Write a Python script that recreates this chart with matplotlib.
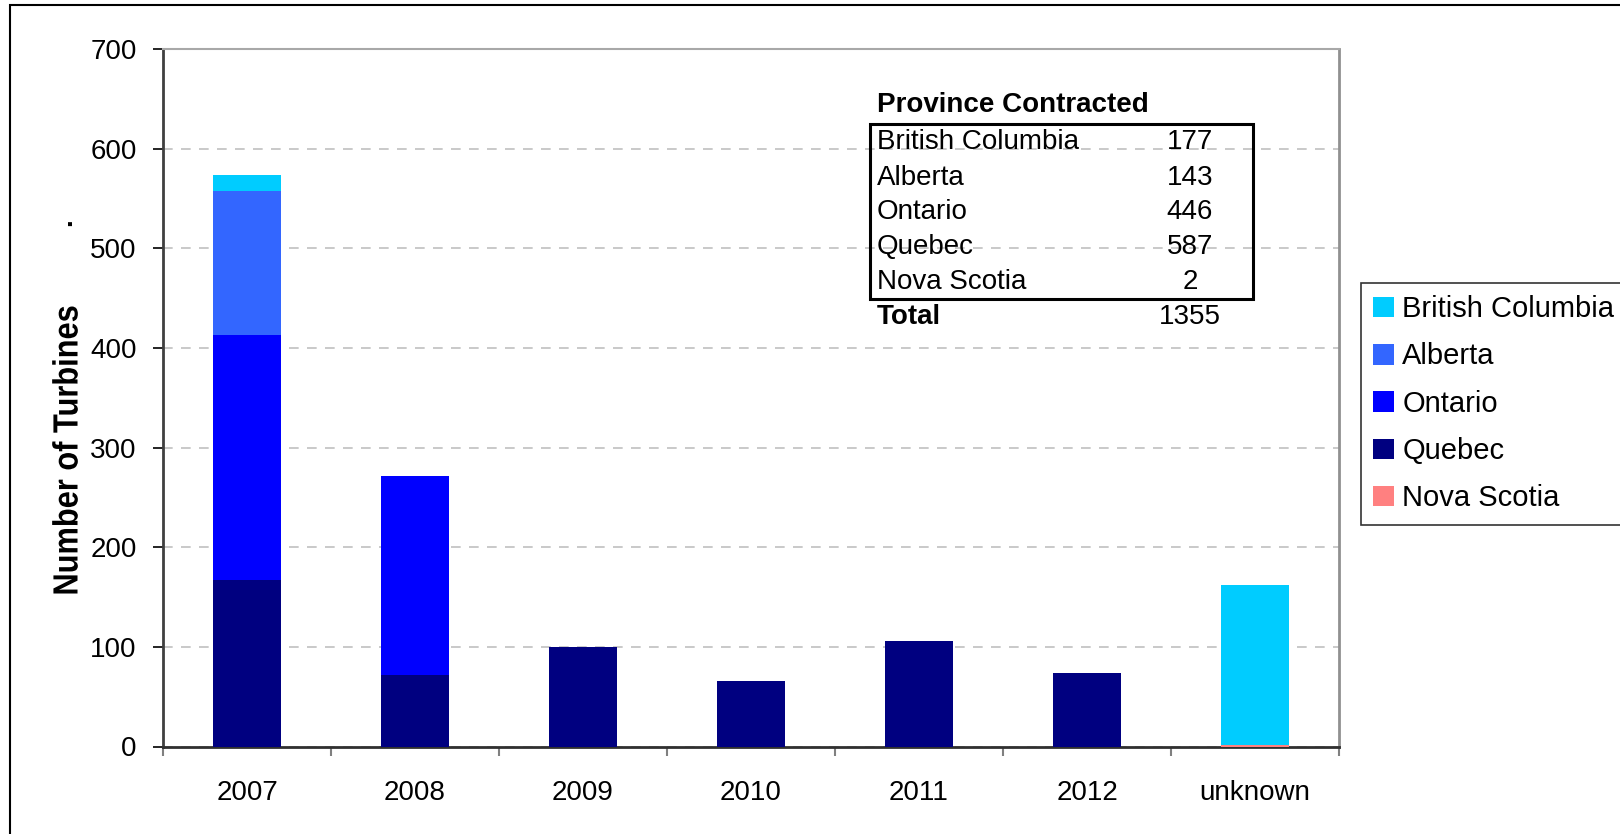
import numpy as np
import matplotlib
matplotlib.use("Agg")
import matplotlib.pyplot as plt
from matplotlib.patches import Rectangle, PathPatch
from matplotlib.textpath import TextPath
from matplotlib.font_manager import FontProperties
from matplotlib.transforms import Affine2D, IdentityTransform

plt.rcParams['font.family'] = ['Liberation Sans', 'DejaVu Sans']

# turbines per province by contract year
years = ['2007', '2008', '2009', '2010', '2011', '2012', 'unknown']
nova_scotia = [0, 0, 0, 0, 0, 0, 2]
quebec = [167, 72, 100, 66, 106, 74, 0]
ontario = [246, 200, 0, 0, 0, 0, 0]
alberta = [145, 0, 0, 0, 0, 0, 0]
british_columbia = [16, 0, 0, 0, 0, 0, 160]

# summary table (province contracted)
table_names = ['British Columbia', 'Alberta', 'Ontario', 'Quebec', 'Nova Scotia']
table_counts = [177, 143, 446, 587, 2]
table_total = 1355

W, H = 1620, 834
fig = plt.figure(figsize=(W / 100, H / 100), dpi=100)


def fx(x):
    return x / W


def fy(y):
    return 1 - y / H


ax = fig.add_axes([fx(163), fy(746.5), (1339 - 163) / W, (746.5 - 49.3) / H])

x = np.arange(len(years))
series = [
    ('Nova Scotia', nova_scotia, '#FF8080'),
    ('Quebec', quebec, '#000080'),
    ('Ontario', ontario, '#0000FF'),
    ('Alberta', alberta, '#3366FF'),
    ('British Columbia', british_columbia, '#00CCFF'),
]
bottom = np.zeros(len(years))
handles = {}
for name, vals, col in series:
    vals = np.array(vals, dtype=float)
    b = ax.bar(x, vals, 0.4, bottom=bottom, color=col, label=name, zorder=3)
    handles[name] = b
    bottom += vals

ax.set_xlim(-0.5, len(years) - 0.5)
ax.set_ylim(0, 700)
ax.set_yticks(np.arange(0, 701, 100))
ax.yaxis.grid(True, color='#c0c0c0', linestyle=(0, (5.8, 5)), linewidth=1.2, zorder=0)

ax.set_xticks(x)
ax.set_xticklabels(years, fontsize=20)
ax.set_xticks(np.arange(-0.5, len(years)), minor=True)
ax.tick_params(axis='x', which='major', length=0, pad=24)
ax.tick_params(axis='x', which='minor', length=6.5, width=1.5, color='#808080', direction='out')
ax.tick_params(axis='y', length=7, width=1.2, color='#000000', direction='out', labelsize=20, pad=12)

ax.spines['left'].set_color('#404040')
ax.spines['left'].set_linewidth(2)
ax.spines['bottom'].set_color('#303030')
ax.spines['bottom'].set_linewidth(2)
ax.spines['right'].set_color('#909090')
ax.spines['right'].set_linewidth(2)
ax.spines['top'].set_color('#a8a8a8')
ax.spines['top'].set_linewidth(1.5)

# y axis title: bold text squeezed horizontally for a narrow look
tp = TextPath((0, 0), 'Number of Turbines', size=35,
              prop=FontProperties(family='Liberation Sans', weight='bold'))
bb = tp.get_extents()
tr = (Affine2D().translate(-(bb.x0 + bb.x1) / 2, -(bb.y0 + bb.y1) / 2)
      .scale(0.88, 1).rotate_deg(90).translate(65, H - 450))
fig.add_artist(PathPatch(tr.transform_path(tp), facecolor='black', edgecolor='none',
                         transform=IdentityTransform()))
fig.text(fx(64), fy(222), '.', rotation=90, ha='center', va='center', fontsize=20, fontweight='bold')

# legend, topmost series first
order = ['British Columbia', 'Alberta', 'Ontario', 'Quebec', 'Nova Scotia']
leg = fig.legend([handles[n] for n in order], order, loc='upper left',
                 bbox_to_anchor=(fx(1361), fy(283)), fontsize=21, frameon=True,
                 fancybox=False, edgecolor='#000000', borderpad=0.42, handlelength=0.7,
                 handleheight=0.7, handletextpad=0.3, labelspacing=0.66, borderaxespad=0)
leg.get_frame().set_linewidth(1.2)

# province table
fig.text(fx(877), fy(105), 'Province Contracted', fontsize=20, fontweight='bold', va='center')
fig.patches.append(Rectangle((fx(870), fy(299)), fx(1253) - fx(870), fy(124) - fy(299),
                             transform=fig.transFigure, fill=False, edgecolor='black', linewidth=2.2))
row_y = [141.7, 177.7, 212, 246.7, 281.7]
for name, cnt, yy in zip(table_names, table_counts, row_y):
    fig.text(fx(877), fy(yy), name, fontsize=20, va='center')
    fig.text(fx(1190), fy(yy), str(cnt), fontsize=20, va='center', ha='center')
fig.text(fx(877), fy(316.7), 'Total', fontsize=20, fontweight='bold', va='center')
fig.text(fx(1190), fy(316.7), str(table_total), fontsize=20, va='center', ha='center')

# outer chart border
fig.patches.append(Rectangle((fx(10), fy(H + 10)), fx(W + 10) - fx(10), fy(5) - fy(H + 10),
                             transform=fig.transFigure, fill=False, edgecolor='black', linewidth=1.5))

fig.savefig('out.png', dpi=100)
